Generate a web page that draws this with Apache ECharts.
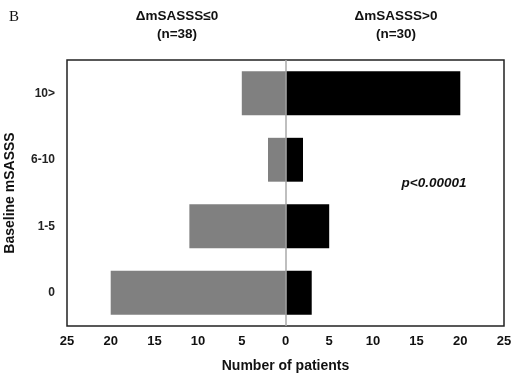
<!DOCTYPE html>
<html><head><meta charset="utf-8">
<script src="https://cdn.jsdelivr.net/npm/echarts@6/dist/echarts.min.js"></script>
<style>html,body{margin:0;padding:0;background:#fff}#c{width:522px;height:383px}</style>
</head><body><div id="c"></div>
<script>
var categories = ['0', '1-5', '6-10', '10>'];
var leftValues = [20, 11, 2, 5];   // ΔmSASSS≤0 (n=38)
var rightValues = [3, 5, 2, 20];   // ΔmSASSS>0 (n=30)
var xTicks = [-25, -20, -15, -10, -5, 0, 5, 10, 15, 20, 25];
var leftTitle = 'ΔmSASSS≤0\n(n=38)';
var rightTitle = 'ΔmSASSS>0\n(n=30)';
var pText = 'p<0.00001';

var chart = echarts.init(document.getElementById('c'), null, {renderer: 'canvas'});
var font = '"Liberation Sans", Arial, sans-serif';
chart.setOption({
  animation: false,
  textStyle: {fontFamily: font},
  grid: {left: 67, right: 18, top: 60, bottom: 57, show: true, borderColor: '#222', borderWidth: 1.5,
         backgroundColor: 'transparent', containLabel: false, outerBoundsMode: 'none'},
  graphic: [
    {type: 'text', left: 9, top: 10, style: {text: 'B', font: '15px "Liberation Serif", "DejaVu Serif", serif', fill: '#111'}},
    {type: 'text', x: 177, y: 7, style: {text: leftTitle, font: 'bold 13.5px ' + font, fill: '#111', align: 'center', lineHeight: 18}},
    {type: 'text', x: 396, y: 7, style: {text: rightTitle, font: 'bold 13.5px ' + font, fill: '#111', align: 'center', lineHeight: 18}}
  ],
  xAxis: {
    type: 'value', min: -25, max: 25, interval: 5,
    name: 'Number of patients', nameLocation: 'middle', nameGap: 33,
    nameTextStyle: {fontSize: 14, fontWeight: 'bold', color: '#111', fontFamily: font},
    axisLine: {show: false}, axisTick: {show: false}, splitLine: {show: false},
    axisLabel: {fontSize: 13, fontWeight: 'bold', color: '#111', margin: 9, formatter: function (v) { return Math.abs(v); }}
  },
  yAxis: {
    type: 'category', data: categories,
    name: 'Baseline mSASSS', nameLocation: 'middle', nameGap: 50, nameRotate: 90,
    nameTextStyle: {fontSize: 14, fontWeight: 'bold', color: '#111', fontFamily: font},
    axisLine: {show: false}, axisTick: {show: false}, splitLine: {show: false},
    axisLabel: {fontSize: 12, fontWeight: 'bold', color: '#222', margin: 12}
  },
  series: [
    {
      type: 'bar', stack: 'a', barWidth: '66%',
      data: leftValues.map(function (v) { return -v; }),
      itemStyle: {color: '#808080'},
      markLine: {symbol: 'none', silent: true, label: {show: false},
        lineStyle: {color: '#aaa', type: 'solid', width: 1.5}, data: [{xAxis: 0}]}
    },
    {
      type: 'bar', stack: 'a', barWidth: '66%',
      data: rightValues,
      itemStyle: {color: '#000'},
      markPoint: {symbol: 'circle', symbolSize: 1, silent: true,
        itemStyle: {color: 'rgba(0,0,0,0)'},
        label: {show: true, position: 'inside', offset: [0, 24], formatter: pText, fontSize: 13.5, fontWeight: 'bold', fontStyle: 'italic', color: '#111', fontFamily: font},
        data: [{coord: [17, '6-10']}]}
    }
  ]
});
</script></body></html>
